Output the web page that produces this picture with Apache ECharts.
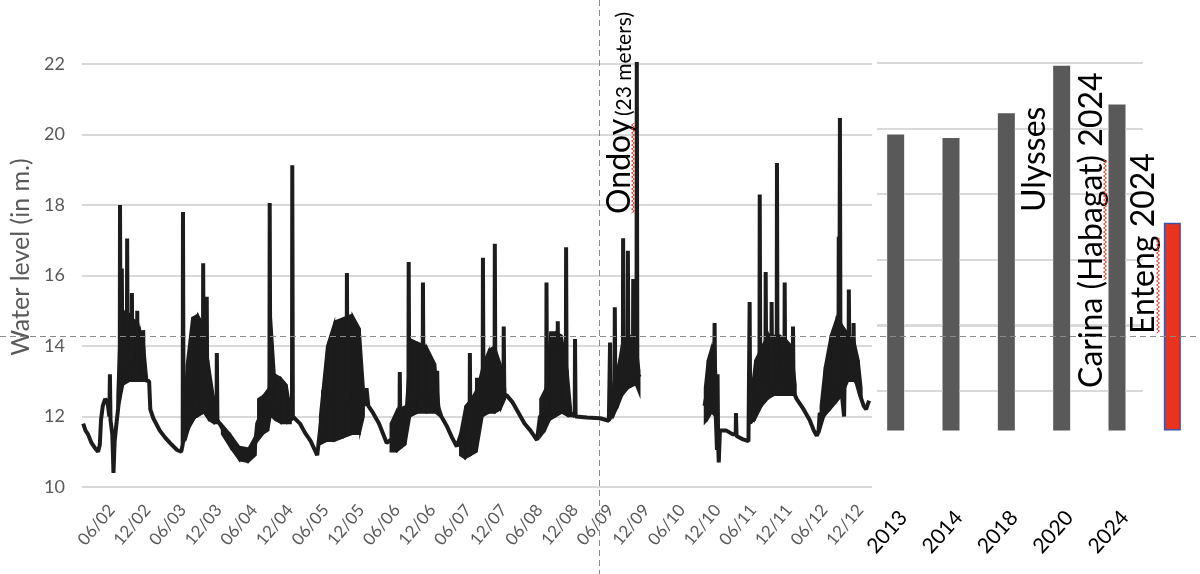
<!DOCTYPE html>
<html><head><meta charset="utf-8">
<script src="https://cdn.jsdelivr.net/npm/echarts@6/dist/echarts.min.js"></script>
<style>html,body{margin:0;padding:0;background:#fff}#c{width:1200px;height:574px}</style>
</head><body><div id="c"></div>
<script>
// Time axis unit: month index m = (year-2002)*12 + month  (06/02 -> 6, 12/12 -> 132)
const tickMonths = [6,12,18,24,30,36,42,48,54,60,66,72,78,84,90,96,102,108,114,120,126,132];
const tickLabels = ['06/02','12/02','06/03','12/03','06/04','12/04','06/05','12/05','06/06','12/06','06/07','12/07','06/08','12/08','06/09','12/09','06/10','12/10','06/11','12/11','06/12','12/12'];
const barGridTicks = [0,1,2,3,4,5];

// Main water-level trace (month, level in m); null = data gap
const traceMonth = [1.2,1.6,2.0,2.6,3.2,3.7,4.0,4.2,4.5,4.9,5.3,5.6,5.7,5.8,6.1,6.3,6.5,6.8,7.2,7.35,7.4,7.5,7.65,7.7,7.8,8.55,8.6,8.7,9.35,9.4,9.5,10.25,10.3,10.4,11.25,11.3,11.4,12.3,12.5,13.0,14.1,15.0,15.8,17.0,17.7,17.95,18.0,18.1,18.6,21.35,21.4,21.5,21.95,22.0,22.1,23.0,23.65,23.7,23.8,24.5,26.0,27.6,29.0,30.0,30.5,31.5,32.55,32.6,32.7,33.5,33.95,34.0,34.1,35.5,36.35,36.4,36.5,37.7,38.5,39.5,40.6,41.2,41.55,41.6,41.7,42.2,45.55,45.6,45.7,47.8,48.3,48.6,48.9,49.2,50.0,51.0,52.3,53.5,54.45,54.5,54.6,55.7,55.95,56.0,56.1,58.35,58.4,58.5,60.75,60.8,60.9,61.5,62.5,63.3,64.1,64.8,66.25,66.3,66.4,67.45,67.5,67.6,68.45,68.5,68.6,70.45,70.5,70.6,71.95,72.0,72.1,72.5,73.5,74.5,75.5,76.5,77.6,78.1,79.15,79.2,79.3,81.05,81.1,81.2,82.45,82.5,82.6,83.95,84.0,84.1,86.0,88.2,89.7,89.85,89.9,90.0,90.65,90.7,90.8,92.05,92.1,92.2,92.85,92.9,93.0,93.75,93.8,93.9,94.35,94.4,94.5,94.9,100,105.8,106.6,107.45,107.5,107.6,107.9,108.0,108.1,108.2,108.4,109.5,110.5,111.05,111.1,111.2,112.3,113.2,113.4,113.5,114.5,115.05,115.1,115.2,116.05,116.1,116.2,117.05,117.1,117.2,117.95,118.0,118.1,119.25,119.3,119.4,120.65,120.7,120.8,121.3,122.5,123.5,124.2,124.7,125.0,125.2,125.5,128.35,128.4,128.5,128.55,128.6,128.7,129.3,129.4,130.05,130.1,130.2,130.85,130.9,131.0,132.0,132.6,133.0,133.5];
const traceLevel = [11.8,11.6,11.5,11.25,11.1,11.0,11.2,11.9,12.3,12.5,12.4,12.0,13.2,11.9,11.5,10.4,11.3,11.8,12.4,12.6,18.0,13.2,13.5,16.2,13.5,13.2,17.05,13.2,13.2,15.5,13.2,13.1,15.0,13.1,13.05,14.45,13.05,13.0,12.2,11.95,11.6,11.4,11.25,11.05,11.0,11.2,17.8,11.5,11.6,12.4,16.35,12.5,12.2,15.4,12.2,12.0,11.9,13.8,11.9,11.7,11.3,10.95,10.9,10.95,11.8,12.2,12.3,18.06,12.6,12.3,12.2,13.0,12.2,12.0,11.9,19.13,12.0,11.8,11.55,11.3,10.9,11.8,11.9,12.75,12.0,12.5,12.5,16.07,12.5,12.0,12.55,12.3,12.8,12.3,12.1,11.8,11.25,11.4,11.5,13.26,11.6,12.0,12.1,16.38,12.5,12.5,15.8,12.5,12.4,13.3,12.3,12.0,11.7,11.4,11.15,11.5,11.5,13.8,11.5,11.7,13.1,11.8,12.2,16.5,12.3,12.4,16.9,12.4,12.5,14.55,12.6,12.6,12.4,12.1,11.8,11.6,11.33,12.0,12.1,15.8,12.2,12.3,14.7,12.3,12.2,16.8,12.2,12.0,14.2,12.0,11.97,11.95,11.88,11.9,14.1,12.1,12.4,15.1,12.5,12.8,17.06,12.9,13.0,16.7,13.0,13.0,15.9,13.0,13.0,22.17,13.1,13.2,null,12.3,13.0,13.5,14.65,12.5,11.05,13.2,11.2,10.7,11.6,11.6,11.5,11.5,12.1,11.45,11.35,11.3,15.25,11.8,12.6,12.8,18.3,12.8,12.8,16.1,12.8,12.8,15.25,12.8,12.8,19.19,12.8,12.8,15.8,12.8,12.7,14.55,12.7,12.5,12.2,11.9,11.6,11.45,11.6,12.1,12.0,13.0,17.1,13.5,13.5,20.47,13.0,12.0,13.2,13.3,15.6,13.3,13.2,14.65,13.2,12.6,12.3,12.2,12.45];

// Dense fluctuation envelope (month, low, high); null separates seasons
const bandMonth = [6.9,7.4,8.0,9.0,10.0,10.8,11.5,12.0,12.2, 18.0,18.6,19.5,20.5,21.5,22.3,23.2,23.8,24.0, 24.5,26.0,27.5,29.0,30.3,30.5, 30.6,31.5,32.4,32.8,33.5,34.5,35.5,36.2,36.4, 41.0,42.2,43.5,45.0,46.5,47.8,48.5,48.7, 52.9,54.0,55.5,56.3,57.5,59.0,60.5,61.2,61.4, 64.6,65.5,66.5,67.5,68.5,69.5,70.5,71.5,72.3,72.5, 78.1,79.0,79.8,80.8,81.8,82.8,83.4,83.6, 89.9,90.5,91.3,92.0,93.0,94.2,94.9,95.0, 105.8,106.3,107.0,107.6,108.0,108.2, 113.5,114.3,115.5,116.5,117.5,118.5,119.5,120.5,121.2,121.4, 125.3,126.0,127.0,128.0,129.0,130.0,131.0,131.8,132.3];
const bandLow = [12.3,12.4,12.9,13.0,13.0,13.0,13.0,13.0,null, 11.2,11.4,11.9,12.0,12.1,11.9,11.8,11.8,null, 11.5,11.1,10.75,10.7,10.9,null, 11.3,11.5,11.6,12.0,11.9,11.8,11.8,11.8,null, 11.2,11.3,11.3,11.4,11.5,11.5,12.0,null, 11.0,11.0,11.2,12.0,12.1,12.1,12.1,12.0,null, 10.9,10.8,10.9,11.0,12.0,12.1,12.1,12.2,12.5,null, 11.4,11.6,11.9,12.0,12.1,12.0,12.0,null, 11.9,12.0,12.3,12.6,12.8,12.9,12.6,null, 11.8,11.9,12.1,12.0,11.4,null, 11.8,11.9,12.3,12.5,12.6,12.6,12.6,12.6,12.6,null, 11.6,12.0,12.2,12.4,12.6,13.0,13.0,12.8,12.6];
const bandHigh = [12.6,15.0,15.0,14.9,14.7,14.5,14.0,13.1,null, 11.6,13.5,14.8,14.9,14.6,13.6,12.6,12.0,null, 11.8,11.5,11.15,11.1,11.5,null, 12.5,12.6,12.8,15.0,13.2,13.1,12.9,12.2,null, 12.0,14.0,14.7,14.8,14.9,14.5,12.8,null, 11.8,12.2,12.3,14.2,14.1,14.0,13.5,12.3,null, 11.5,12.3,12.5,12.8,13.5,13.9,14.0,13.5,12.8,null, 12.5,12.8,14.4,14.4,14.3,13.3,12.2,null, 12.3,13.0,13.5,14.2,14.3,14.3,13.3,null, 12.8,13.6,14.0,14.1,12.5,null, 12.5,13.6,14.0,14.35,14.3,14.3,14.2,14.0,12.9,null, 12.3,13.4,14.3,14.8,14.6,14.35,14.2,13.6,12.8];

// Peak water levels of recent events (m)
const barYears = ['2013','2014','2018','2020','2024',''];
const barPeak = [20.0, 19.9, 20.6, 21.95, 20.85, 17.5];
const barBase = 11.6;
const barColors = ['#595959','#595959','#595959','#595959','#595959','#e8341f'];
const eventLabels = ['Ulysses','Carina (Habagat) 2024','Enteng 2024'];

const FONT = 'Lato, "Liberation Sans", sans-serif';
const INK = '#1c1c1c';
const BAR_W = 17;
const traceData = traceMonth.map((m, i) => [m, traceLevel[i]]);
const bandData = bandMonth.map((m, i) => [m, bandLow[i] == null ? 0 : bandLow[i], bandHigh[i] == null ? 0 : bandHigh[i]]);
const barBaseData = barPeak.map(() => barBase);
const barTopData = barPeak.map((v, i) => ({
  value: +(v - barBase).toFixed(2),
  itemStyle: i === 5 ? {color: barColors[i], borderColor: '#3f51a8', borderWidth: 1.5} : {color: barColors[i]}
}));

function renderBand(params, api) {
  const i = params.dataIndex;
  if (bandLow[i] == null || i + 1 >= bandMonth.length || bandLow[i + 1] == null) return null;
  const pts = [
    api.coord([bandMonth[i], bandLow[i]]),
    api.coord([bandMonth[i], bandHigh[i]]),
    api.coord([bandMonth[i + 1], bandHigh[i + 1]]),
    api.coord([bandMonth[i + 1], bandLow[i + 1]])
  ];
  return {type: 'polygon', shape: {points: pts}, style: {fill: INK, stroke: INK, lineWidth: 1.5}};
}

function wavy(x, y1, y2) {
  const pts = [];
  let k = 0;
  for (let y = y2; y >= y1; y -= 2) { pts.push([x + (k % 2 ? 1.5 : -1.5), y]); k++; }
  return {type: 'polyline', z: 120, shape: {points: pts}, style: {stroke: '#e0392b', lineWidth: 1, fill: 'none'}};
}

const staticGraphic = [
  {type: 'line', z: 110, shape: {x1: 599.5, y1: 0, x2: 599.5, y2: 574}, style: {stroke: '#8a8a8a', lineWidth: 1, lineDash: [6, 4]}},
  {type: 'line', z: 110, shape: {x1: 0, y1: 336.5, x2: 1200, y2: 336.5}, style: {stroke: '#8a8a8a', lineWidth: 1, lineDash: [6, 4]}},
  {type: 'text', z: 115, x: 620, y: 214, rotation: Math.PI / 2,
    style: {text: 'Ondoy', fontSize: 32, fontFamily: FONT, fill: '#000', align: 'left', verticalAlign: 'middle'}},
  {type: 'text', z: 115, x: 624, y: 116, rotation: Math.PI / 2,
    style: {text: '(23 meters)', fontSize: 21, fontFamily: FONT, fill: '#000', align: 'left', verticalAlign: 'middle'}},
  {type: 'text', z: 115, x: 1035, y: 212, rotation: Math.PI / 2,
    style: {text: eventLabels[0], fontSize: 32, fontFamily: FONT, fill: '#000', align: 'left', verticalAlign: 'middle'}},
  {type: 'text', z: 115, x: 1092, y: 388, rotation: Math.PI / 2,
    style: {text: eventLabels[1], fontSize: 32, fontFamily: FONT, fill: '#000', align: 'left', verticalAlign: 'middle'}},
  {type: 'text', z: 115, x: 1144, y: 334, rotation: Math.PI / 2,
    style: {text: eventLabels[2], fontSize: 32, fontFamily: FONT, fill: '#000', align: 'left', verticalAlign: 'middle'}},
  wavy(633, 122, 213),
  wavy(1105, 160, 280),
  wavy(1158, 237, 333)
];

const chart = echarts.init(document.getElementById('c'));
chart.setOption({
  animation: false,
  backgroundColor: '#fff',
  grid: [
    {left: 82, right: 328, top: 64, bottom: 87},
    {left: 877, width: 266, top: 63, height: 328},
    {left: 868, width: 332, top: 64, bottom: 87}
  ],
  xAxis: [
    {gridIndex: 0, type: 'value', min: 1, max: 134,
      axisLine: {show: false}, axisTick: {show: false}, splitLine: {show: false},
      axisLabel: {customValues: tickMonths, rotate: 50, margin: 20, color: '#595959', fontSize: 17, fontFamily: FONT,
        formatter: v => tickLabels[tickMonths.indexOf(v)] || ''}},
    {gridIndex: 1, type: 'value', min: 0, max: 1, show: false},
    {gridIndex: 2, type: 'category', data: barYears,
      axisLine: {show: false}, axisTick: {show: false}, splitLine: {show: false},
      axisLabel: {rotate: 48, margin: 20, color: '#000', fontSize: 21, fontFamily: FONT, interval: 0, verticalAlign: 'top'}}
  ],
  yAxis: [
    {gridIndex: 0, type: 'value', min: 10, max: 22, interval: 2,
      axisLine: {show: false}, axisTick: {show: false},
      splitLine: {lineStyle: {color: '#d9d9d9', width: 2}},
      axisLabel: {color: '#595959', fontSize: 18, fontFamily: FONT, margin: 17},
      name: 'Water level (in m.)', nameLocation: 'middle', nameRotate: 90, nameGap: 21,
      nameTextStyle: {color: '#595959', fontSize: 25, fontFamily: FONT, padding: [0, 0, 0, 37]}},
    {gridIndex: 1, type: 'value', min: 0, max: 5, interval: 1,
      axisLine: {show: false}, axisTick: {show: false}, axisLabel: {show: false},
      splitLine: {show: true, lineStyle: {color: '#d9d9d9', width: 2}}},
    {gridIndex: 2, type: 'value', min: 10, max: 22, show: false}
  ],
  series: [
    {type: 'scatter', xAxisIndex: 1, yAxisIndex: 1, data: [[0.5, 0]], symbolSize: 0, silent: true},
    {type: 'custom', xAxisIndex: 0, yAxisIndex: 0, data: bandData, renderItem: renderBand,
      encode: {x: 0, y: [1, 2]}, clip: true},
    {type: 'line', xAxisIndex: 0, yAxisIndex: 0, data: traceData, symbol: 'none', connectNulls: false,
      lineStyle: {color: INK, width: 4}},
    {type: 'bar', xAxisIndex: 2, yAxisIndex: 2, data: barBaseData, stack: 'bars', barWidth: BAR_W,
      itemStyle: {color: 'transparent'}},
    {type: 'bar', xAxisIndex: 2, yAxisIndex: 2, data: barTopData, stack: 'bars', barWidth: BAR_W}
  ],
  graphic: staticGraphic
});

// Gridlines of the bar panel, placed through the panel's own scales, interrupted only where a bar covers them
const gx0 = chart.convertToPixel({xAxisIndex: 1, yAxisIndex: 1}, [0, 0])[0];
const gx1 = chart.convertToPixel({xAxisIndex: 1, yAxisIndex: 1}, [1, 0])[0];
const barPix = barYears.map((_, i) => {
  const p = chart.convertToPixel({xAxisIndex: 2, yAxisIndex: 2}, [i, barPeak[i]]);
  return {l: p[0] - BAR_W / 2, r: p[0] + BAR_W / 2, top: p[1]};
});
const gridSegs = [];
barGridTicks.forEach(v => {
  const y = Math.round(chart.convertToPixel({xAxisIndex: 1, yAxisIndex: 1}, [0, v])[1]);
  let start = gx0;
  barPix.forEach(b => {
    if (b.r < gx0 || b.l > gx1 || b.top > y) return;
    if (b.l > start) gridSegs.push({x1: start, x2: b.l, y});
    start = Math.max(start, b.r);
  });
  if (start < gx1) gridSegs.push({x1: start, x2: gx1, y});
});
chart.setOption({
  graphic: staticGraphic.concat(gridSegs.map(s => ({
    type: 'line', z: 100, shape: {x1: s.x1, y1: s.y, x2: s.x2, y2: s.y},
    style: {stroke: '#d9d9d9', lineWidth: 2}
  })))
});
</script>
</body></html>
